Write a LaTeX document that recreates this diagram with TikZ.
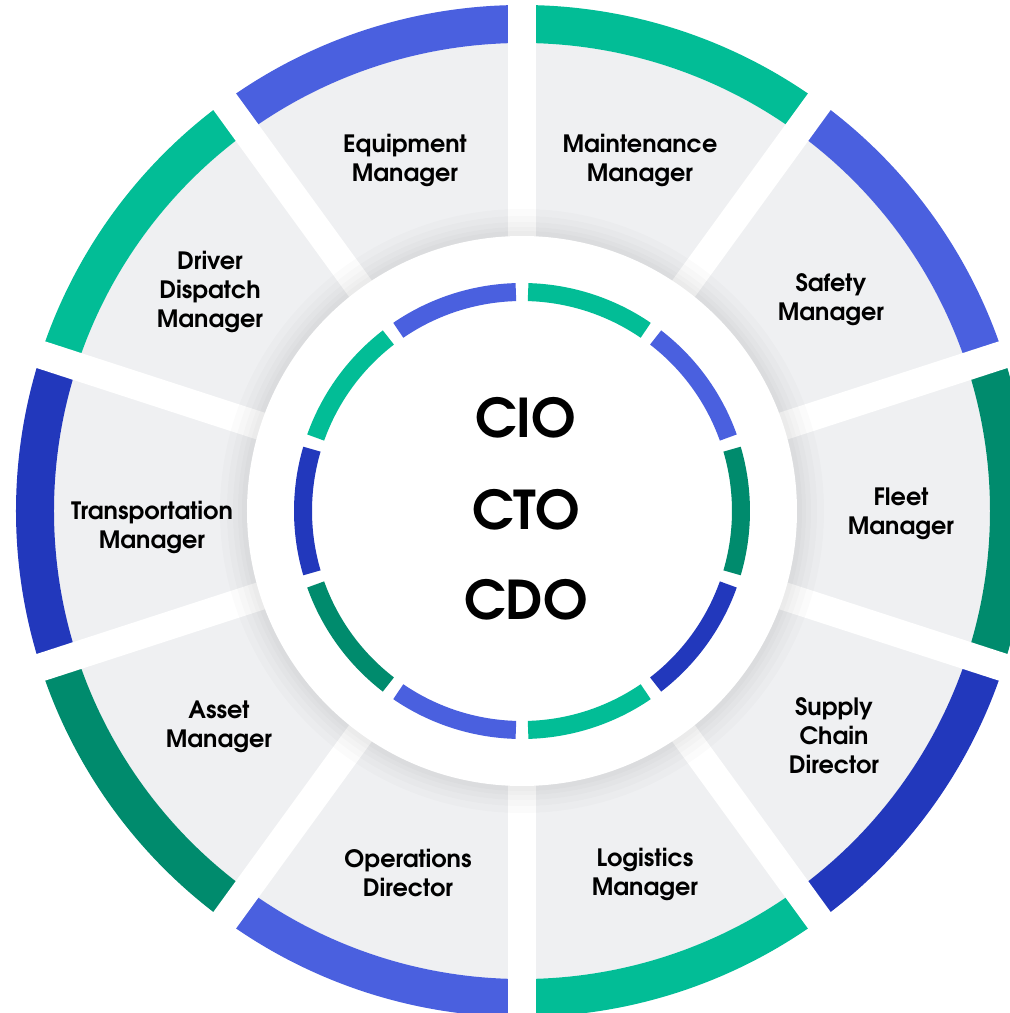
\documentclass[tikz,border=0pt]{standalone}
\usepackage{fontspec}
\setmainfont{texgyreadventor}[Extension=.otf, UprightFont=*-regular, BoldFont=*-bold]
\usepackage{tikz}

\definecolor{ringblue}{HTML}{4A60DF}
\definecolor{ringteal}{HTML}{02BD96}
\definecolor{ringgreen}{HTML}{008B6D}
\definecolor{ringnavy}{HTML}{2238BC}
\definecolor{sectorgray}{HTML}{EFF0F2}

\tikzset{
  role/.style={font=\bfseries\fontsize{17}{20.6}\selectfont, align=center, text=black},
  chief/.style={font=\bfseries\fontsize{38}{40}\selectfont, text=black},
  gap/.style={white, line width=7mm},
  inner/.style={line width=4.5mm},
}

\begin{document}
\begin{tikzpicture}[x=0.25mm,y=0.25mm]
                \useasboundingbox (-522,-502) rectangle (488,511);

                % grey sectors
                \fill[sectorgray] (0,0) circle (468);

                % outer coloured band
                \fill[ringteal]  (54:506) arc[start angle=54, end angle=90, radius=506] -- (90:468) arc[start angle=90, end angle=54, radius=468] -- cycle;
                \fill[ringblue]  (18:506) arc[start angle=18, end angle=54, radius=506] -- (54:468) arc[start angle=54, end angle=18, radius=468] -- cycle;
                \fill[ringgreen] (-18:506) arc[start angle=-18, end angle=18, radius=506] -- (18:468) arc[start angle=18, end angle=-18, radius=468] -- cycle;
                \fill[ringnavy]  (-54:506) arc[start angle=-54, end angle=-18, radius=506] -- (-18:468) arc[start angle=-18, end angle=-54, radius=468] -- cycle;
                \fill[ringteal]  (-90:506) arc[start angle=-90, end angle=-54, radius=506] -- (-54:468) arc[start angle=-54, end angle=-90, radius=468] -- cycle;
                \fill[ringblue]  (-126:506) arc[start angle=-126, end angle=-90, radius=506] -- (-90:468) arc[start angle=-90, end angle=-126, radius=468] -- cycle;
                \fill[ringgreen] (-162:506) arc[start angle=-162, end angle=-126, radius=506] -- (-126:468) arc[start angle=-126, end angle=-162, radius=468] -- cycle;
                \fill[ringnavy]  (162:506) arc[start angle=162, end angle=198, radius=506] -- (198:468) arc[start angle=198, end angle=162, radius=468] -- cycle;
                \fill[ringteal]  (126:506) arc[start angle=126, end angle=162, radius=506] -- (162:468) arc[start angle=162, end angle=126, radius=468] -- cycle;
                \fill[ringblue]  (90:506) arc[start angle=90, end angle=126, radius=506] -- (126:468) arc[start angle=126, end angle=90, radius=468] -- cycle;

                % white gaps between the sectors
                \draw[gap] (90:520) -- (270:520);
                \draw[gap] (54:520) -- (234:520);
                \draw[gap] (18:520) -- (198:520);
                \draw[gap] (-18:520) -- (162:520);
                \draw[gap] (-54:520) -- (126:520);

                % soft shadow and the white centre
                \fill[black, opacity=0.014] (0,0) circle (302);
                \fill[black, opacity=0.014] (0,0) circle (295);
                \fill[black, opacity=0.014] (0,0) circle (289);
                \fill[black, opacity=0.014] (0,0) circle (284);
                \fill[black, opacity=0.014] (0,0) circle (280);
                \fill[white] (0,0) circle (275);

                % inner coloured ring
                \draw[inner, ringteal]  (55.6:219) arc[start angle=55.6, end angle=88.4, radius=219];
                \draw[inner, ringblue]  (19.6:219) arc[start angle=19.6, end angle=52.4, radius=219];
                \draw[inner, ringgreen] (-16.4:219) arc[start angle=-16.4, end angle=16.4, radius=219];
                \draw[inner, ringnavy]  (-52.4:219) arc[start angle=-52.4, end angle=-19.6, radius=219];
                \draw[inner, ringteal]  (-88.4:219) arc[start angle=-88.4, end angle=-55.6, radius=219];
                \draw[inner, ringblue]  (-124.4:219) arc[start angle=-124.4, end angle=-91.6, radius=219];
                \draw[inner, ringgreen] (-160.4:219) arc[start angle=-160.4, end angle=-127.6, radius=219];
                \draw[inner, ringnavy]  (163.6:219) arc[start angle=163.6, end angle=196.4, radius=219];
                \draw[inner, ringteal]  (127.6:219) arc[start angle=127.6, end angle=160.4, radius=219];
                \draw[inner, ringblue]  (91.6:219) arc[start angle=91.6, end angle=124.4, radius=219];

                % centre titles
                \node[chief] (cio) at (4,93) {CIO};
                \node[chief] (cto) at (4,1) {CTO};
                \node[chief] (cdo) at (4,-89) {CDO};

                % roles
                \node[role] (maint) at (118,351) {Maintenance\\Manager};
                \node[role] (safety) at (309,211) {Safety\\Manager};
                \node[role] (fleet) at (379,-3) {Fleet\\Manager};
                \node[role] (supply) at (312,-225) {Supply\\Chain\\Director};
                \node[role] (logist) at (123,-363) {Logistics\\Manager};
                \node[role] (oper) at (-114,-362) {Operations\\Director};
                \node[role] (asset) at (-303,-216) {Asset\\Manager};
                \node[role] (transp) at (-370,-16) {Transportation\\Manager};
                \node[role] (driver) at (-312,219) {Driver\\Dispatch\\Manager};
                \node[role] (equip) at (-117,351) {Equipment\\Manager};
\end{tikzpicture}
\end{document}
